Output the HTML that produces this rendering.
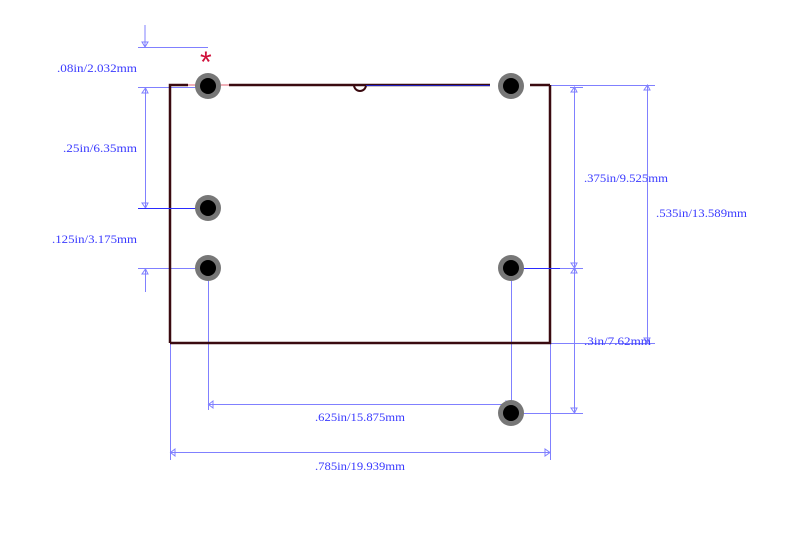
<!DOCTYPE html>
<html><head><meta charset="utf-8"><style>
html,body{margin:0;padding:0;background:#fff;width:800px;height:549px;overflow:hidden}
text{font-family:"Liberation Serif","Noto Serif CJK SC",serif;font-size:12px;fill:#3a3aff}
</style></head><body>
<svg width="800" height="549" viewBox="0 0 800 549" xmlns="http://www.w3.org/2000/svg">
<g stroke="#8080ff" stroke-width="1" fill="none">
<line x1="145" y1="25" x2="145" y2="47"/>
<line x1="138" y1="47.5" x2="208" y2="47.5"/>
<line x1="138" y1="87.5" x2="208" y2="87.5"/>
<line x1="145.5" y1="87" x2="145.5" y2="208"/>
<line x1="145.5" y1="268" x2="145.5" y2="292"/>
<line x1="138" y1="268.5" x2="208" y2="268.5"/>
<line x1="550" y1="85.5" x2="655" y2="85.5"/>
<line x1="570" y1="87.5" x2="583" y2="87.5"/>
<line x1="574.5" y1="87" x2="574.5" y2="413"/>
<line x1="511" y1="268.5" x2="583" y2="268.5"/>
<line x1="511" y1="413.5" x2="583" y2="413.5"/>
<line x1="647.5" y1="85" x2="647.5" y2="343"/>
<line x1="550" y1="343.5" x2="655" y2="343.5"/>
<line x1="208.5" y1="268" x2="208.5" y2="410"/>
<line x1="511.5" y1="268" x2="511.5" y2="413"/>
<line x1="208" y1="404.5" x2="511" y2="404.5"/>
<line x1="170.5" y1="343" x2="170.5" y2="460"/>
<line x1="550.5" y1="343" x2="550.5" y2="460"/>
<line x1="170" y1="452.5" x2="550" y2="452.5"/>
<path d="M142,42 L148,42 L145,47 Z"/>
<path d="M142,93 L148,93 L145.5,88 Z"/>
<path d="M142,203 L148,203 L145.5,208 Z"/>
<path d="M142,274 L148,274 L145.5,269 Z"/>
<path d="M571,92 L577,92 L574.5,87 Z"/>
<path d="M571,263 L577,263 L574.5,268 Z"/>
<path d="M571,273 L577,273 L574.5,268 Z"/>
<path d="M571,408 L577,408 L574.5,413 Z"/>
<path d="M644,90 L650,90 L647.5,85 Z"/>
<path d="M644,338 L650,338 L647.5,343 Z"/>
<path d="M213,401 L213,408 L208.5,404.5 Z"/>
<path d="M506,401 L506,408 L511,404.5 Z"/>
<path d="M175,449 L175,456 L170.5,452.5 Z"/>
<path d="M545,449 L545,456 L550,452.5 Z"/>
</g>
<g fill="none" stroke-width="2.5">
<path d="M170,343 L170,85 L188,85" stroke="#3a0a10"/>
<line x1="229" y1="85" x2="490" y2="85" stroke="#3a0a10"/>
<line x1="530" y1="85" x2="550" y2="85" stroke="#3a0a10"/>
<path d="M550,85 L550,343 L170,343" stroke="#3a0a10"/>
</g>
<line x1="188" y1="85" x2="229" y2="85" stroke="#e06070" stroke-width="1"/>
<path d="M354,85 A6,6 0 0 0 366,85" fill="none" stroke="#3a0a10" stroke-width="2"/>
<line x1="366" y1="85.5" x2="490" y2="85.5" stroke="#2020c0" stroke-width="1"/>
<g stroke="#2a2aff" stroke-width="1">
<line x1="138" y1="208.5" x2="208" y2="208.5"/>
<line x1="511" y1="268.5" x2="560" y2="268.5"/>
</g>
<g>
<circle cx="208" cy="86" r="13" fill="#777"/><circle cx="208" cy="86" r="8" fill="#000"/>
<circle cx="511" cy="86" r="13" fill="#777"/><circle cx="511" cy="86" r="8" fill="#000"/>
<circle cx="208" cy="208" r="13" fill="#777"/><circle cx="208" cy="208" r="8" fill="#000"/>
<circle cx="208" cy="268" r="13" fill="#777"/><circle cx="208" cy="268" r="8" fill="#000"/>
<circle cx="511" cy="268" r="13" fill="#777"/><circle cx="511" cy="268" r="8" fill="#000"/>
<circle cx="511" cy="413" r="13" fill="#777"/><circle cx="511" cy="413" r="8" fill="#000"/>
</g>
<text x="200" y="72" style="fill:#d0103a;font-size:30px;font-family:'Liberation Sans',sans-serif">*</text>
<text x="57" y="72" textLength="80" lengthAdjust="spacingAndGlyphs">.08in/2.032mm</text>
<text x="63" y="152" textLength="74" lengthAdjust="spacingAndGlyphs">.25in/6.35mm</text>
<text x="52" y="243" textLength="85" lengthAdjust="spacingAndGlyphs">.125in/3.175mm</text>
<text x="584" y="182" textLength="84" lengthAdjust="spacingAndGlyphs">.375in/9.525mm</text>
<text x="656" y="217" textLength="91" lengthAdjust="spacingAndGlyphs">.535in/13.589mm</text>
<text x="584" y="345" textLength="67" lengthAdjust="spacingAndGlyphs">.3in/7.62mm</text>
<text x="315" y="421" textLength="90" lengthAdjust="spacingAndGlyphs">.625in/15.875mm</text>
<text x="315" y="470" textLength="90" lengthAdjust="spacingAndGlyphs">.785in/19.939mm</text>
</svg>
</body></html>
